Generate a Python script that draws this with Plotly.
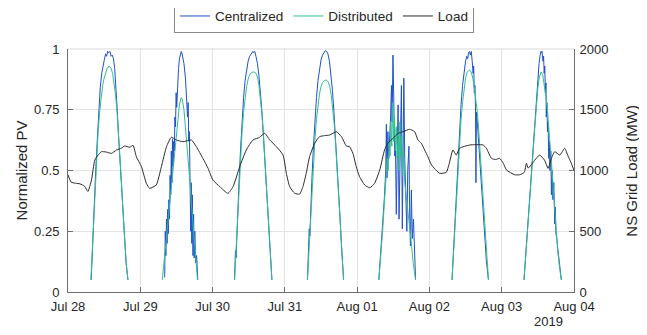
import pandas as pd
import plotly.graph_objects as go

# ---------------- data ----------------
start_date = "2019-07-28"
day_labels = ["Jul 28", "Jul 29", "Jul 30", "Jul 31", "Aug 01", "Aug 02", "Aug 03", "Aug 04"]
pv_ticks = [0, 0.25, 0.5, 0.75, 1]
pv_tick_labels = ["0", "0.25", "0.5", "0.75", "1"]
load_ticks = [0, 500, 1000, 1500, 2000]

# Distributed PV (normalized), local hours of each day
dist_hours = [
    [7.6, 8.0, 8.5, 9.0, 9.5, 10.0, 10.5, 11.0, 11.5, 12.0, 12.5, 13.0, 13.7, 14.3, 14.8, 15.3, 15.8, 16.3, 16.8, 17.3, 17.8, 18.3, 18.8, 19.3, 19.9],
    [7.3, 8.0, 8.5, 9.0, 9.5, 10.0, 10.5, 11.0, 11.5, 12.0, 12.5, 13.0, 13.6, 14.0, 14.5, 15.0, 15.5, 16.0, 16.5, 17.0, 17.5, 18.0, 18.5, 19.0],
    [7.3, 7.8, 8.3, 8.8, 9.3, 9.8, 10.3, 10.8, 11.3, 11.8, 12.3, 12.9, 13.7, 14.4, 14.9, 15.4, 15.9, 16.4, 16.9, 17.4, 17.9, 18.4, 18.9, 19.3, 19.7],
    [7.5, 8.0, 8.5, 9.0, 9.5, 10.0, 10.5, 11.0, 11.5, 12.0, 12.5, 13.1, 13.8, 14.4, 14.9, 15.4, 15.9, 16.4, 16.9, 17.4, 17.9, 18.4, 18.9, 19.2, 19.5],
    [7.2, 7.8, 8.4, 9.0, 9.6, 10.0, 10.3, 10.6, 10.9, 11.2, 11.5, 11.8, 12.1, 12.4, 12.7, 13.0, 13.3, 13.6, 13.9, 14.2, 14.5, 14.8, 15.1, 15.4, 15.8, 16.3, 16.8, 17.4, 18.0, 18.6, 19.4],
    [7.5, 8.0, 8.5, 9.0, 9.5, 10.0, 10.5, 11.0, 11.5, 12.0, 12.5, 13.3, 13.9, 14.4, 14.9, 15.4, 15.9, 16.4, 16.9, 17.4, 17.9, 18.4, 18.9, 19.6],
    [7.4, 8.0, 8.5, 9.0, 9.5, 10.0, 10.5, 11.0, 11.5, 12.0, 12.5, 13.1, 13.6, 14.1, 14.6, 15.1, 15.6, 16.1, 16.6, 17.1, 17.6, 18.1, 18.6, 19.2, 19.8],
]
dist_values = [
    [0.05, 0.16, 0.30, 0.44, 0.56, 0.66, 0.74, 0.80, 0.85, 0.88, 0.905, 0.92, 0.93, 0.92, 0.90, 0.86, 0.81, 0.74, 0.65, 0.55, 0.44, 0.32, 0.21, 0.12, 0.05],
    [0.05, 0.14, 0.20, 0.26, 0.34, 0.41, 0.48, 0.54, 0.60, 0.66, 0.72, 0.77, 0.80, 0.79, 0.75, 0.68, 0.61, 0.53, 0.45, 0.36, 0.28, 0.20, 0.12, 0.05],
    [0.05, 0.17, 0.31, 0.44, 0.56, 0.66, 0.74, 0.80, 0.845, 0.875, 0.893, 0.903, 0.906, 0.90, 0.885, 0.85, 0.80, 0.73, 0.64, 0.54, 0.43, 0.32, 0.20, 0.12, 0.05],
    [0.05, 0.17, 0.30, 0.42, 0.53, 0.63, 0.71, 0.77, 0.815, 0.845, 0.862, 0.87, 0.872, 0.865, 0.845, 0.81, 0.76, 0.69, 0.60, 0.50, 0.39, 0.28, 0.17, 0.11, 0.05],
    [0.05, 0.14, 0.24, 0.36, 0.48, 0.55, 0.50, 0.62, 0.56, 0.70, 0.60, 0.78, 0.62, 0.72, 0.58, 0.68, 0.55, 0.66, 0.50, 0.70, 0.56, 0.64, 0.48, 0.58, 0.45, 0.40, 0.34, 0.27, 0.20, 0.12, 0.05],
    [0.05, 0.16, 0.28, 0.40, 0.51, 0.62, 0.71, 0.78, 0.84, 0.88, 0.905, 0.914, 0.905, 0.88, 0.84, 0.80, 0.74, 0.66, 0.56, 0.45, 0.34, 0.24, 0.14, 0.05],
    [0.05, 0.15, 0.22, 0.31, 0.40, 0.50, 0.59, 0.68, 0.77, 0.84, 0.885, 0.906, 0.895, 0.86, 0.81, 0.76, 0.69, 0.60, 0.52, 0.43, 0.34, 0.25, 0.17, 0.10, 0.05],
]

# Centralized PV (normalized), local hours of each day
cent_hours = [
    [7.7, 8.2, 8.7, 9.2, 9.7, 10.2, 10.7, 11.2, 11.7, 12.2, 12.5, 12.8, 13.2, 13.5, 13.9, 14.3, 14.7, 15.1, 15.5, 15.9, 16.3, 16.8, 17.3, 17.8, 18.3, 18.8, 19.3, 19.9],
    [8.1, 8.3, 8.5, 8.7, 8.9, 9.1, 9.3, 9.5, 9.7, 9.9, 10.1, 10.3, 10.5, 10.7, 10.9, 11.1, 11.3, 11.5, 11.7, 11.9, 12.1, 12.4, 12.7, 13.0, 13.3, 13.6, 13.8, 14.0, 14.5, 15.0, 15.4, 15.7, 15.9, 16.1, 16.3, 16.5, 16.6, 16.75, 16.9, 17.1, 17.3, 17.5, 17.7, 17.9, 18.1, 18.4, 18.7, 19.1],
    [7.3, 7.6, 7.8, 8.0, 8.3, 8.8, 9.3, 9.8, 10.3, 10.8, 11.3, 11.8, 12.3, 12.9, 13.4, 13.7, 14.0, 14.4, 14.9, 15.4, 15.9, 16.4, 16.9, 17.4, 17.9, 18.4, 18.9, 19.3, 19.7],
    [7.5, 7.9, 8.1, 8.3, 8.6, 9.0, 9.5, 10.0, 10.5, 11.0, 11.5, 12.0, 12.5, 13.0, 13.4, 13.9, 14.3, 14.8, 15.3, 15.8, 16.3, 16.8, 17.3, 17.8, 18.3, 18.8, 19.2, 19.5],
    [7.2, 7.8, 8.4, 9.0, 9.5, 9.7, 9.9, 10.2, 10.5, 10.8, 11.1, 11.4, 11.6, 11.9, 12.1, 12.5, 12.7, 13.0, 13.2, 13.6, 13.9, 14.2, 14.7, 15.0, 15.2, 15.5, 15.8, 16.1, 16.5, 16.8, 17.2, 17.4, 17.7, 18.0, 18.3, 18.7, 19.1, 19.4],
    [7.5, 8.0, 8.5, 9.0, 9.5, 10.0, 10.5, 11.0, 11.5, 12.0, 12.4, 12.7, 13.0, 13.3, 13.6, 13.9, 14.2, 14.5, 14.7, 14.9, 15.1, 15.3, 15.45, 15.6, 15.9, 16.2, 16.5, 16.9, 17.4, 17.9, 18.4, 18.9, 19.6],
    [7.4, 8.0, 8.5, 9.0, 9.5, 10.0, 10.5, 11.0, 11.5, 12.0, 12.4, 12.7, 13.0, 13.2, 13.4, 13.7, 13.9, 14.1, 14.3, 14.5, 14.7, 14.8, 15.0, 15.2, 15.4, 15.6, 15.8, 16.0, 16.3, 16.5, 16.8, 17.0, 17.3, 17.6, 17.8, 18.0, 18.3, 18.6, 19.2, 19.8],
]
cent_values = [
    [0.05, 0.22, 0.36, 0.50, 0.62, 0.74, 0.84, 0.90, 0.94, 0.965, 0.98, 0.97, 0.99, 0.985, 0.99, 0.97, 0.975, 0.96, 0.92, 0.85, 0.76, 0.64, 0.53, 0.43, 0.32, 0.21, 0.12, 0.05],
    [0.06, 0.25, 0.15, 0.30, 0.20, 0.34, 0.24, 0.38, 0.30, 0.48, 0.40, 0.58, 0.45, 0.63, 0.52, 0.62, 0.58, 0.72, 0.68, 0.82, 0.76, 0.88, 0.92, 0.96, 0.98, 0.99, 0.985, 0.97, 0.94, 0.88, 0.80, 0.72, 0.78, 0.62, 0.66, 0.40, 0.58, 0.25, 0.45, 0.20, 0.40, 0.15, 0.32, 0.14, 0.25, 0.12, 0.15, 0.05],
    [0.05, 0.17, 0.14, 0.22, 0.32, 0.46, 0.59, 0.71, 0.80, 0.87, 0.92, 0.95, 0.97, 0.98, 0.99, 0.985, 0.99, 0.97, 0.94, 0.89, 0.82, 0.74, 0.64, 0.54, 0.43, 0.32, 0.20, 0.12, 0.05],
    [0.05, 0.20, 0.26, 0.23, 0.36, 0.47, 0.60, 0.71, 0.80, 0.87, 0.92, 0.955, 0.975, 0.985, 0.993, 0.99, 0.98, 0.95, 0.90, 0.83, 0.74, 0.64, 0.53, 0.42, 0.31, 0.19, 0.11, 0.05],
    [0.05, 0.15, 0.26, 0.38, 0.50, 0.69, 0.47, 0.66, 0.55, 0.62, 0.72, 0.85, 0.70, 0.975, 0.80, 0.56, 0.62, 0.32, 0.48, 0.77, 0.30, 0.55, 0.85, 0.26, 0.50, 0.88, 0.55, 0.40, 0.25, 0.50, 0.60, 0.35, 0.19, 0.42, 0.22, 0.30, 0.14, 0.05],
    [0.05, 0.18, 0.31, 0.44, 0.56, 0.67, 0.77, 0.85, 0.91, 0.95, 0.97, 0.96, 0.985, 0.99, 0.975, 0.99, 0.95, 0.90, 0.93, 0.82, 0.85, 0.76, 0.45, 0.74, 0.70, 0.64, 0.60, 0.53, 0.43, 0.33, 0.23, 0.13, 0.05],
    [0.05, 0.16, 0.24, 0.34, 0.44, 0.54, 0.63, 0.72, 0.81, 0.89, 0.94, 0.97, 0.99, 0.985, 0.99, 0.95, 0.97, 0.90, 0.93, 0.82, 0.86, 0.72, 0.78, 0.66, 0.70, 0.55, 0.62, 0.50, 0.58, 0.40, 0.50, 0.38, 0.45, 0.28, 0.35, 0.24, 0.22, 0.18, 0.10, 0.05],
]

# NS grid load (MW), hours since Jul 28 00:00
load_hours = [0, 1, 2.5, 4, 5.5, 6.6, 7.8, 8.9, 10, 11.1, 12.7, 14.4, 16.1, 17.7, 18.8, 20.5, 21.6, 22.7, 24.4, 26.0, 27.1, 29.3,
              31.0, 32.7, 34.3, 36.0, 38.2, 41.0, 42.6, 44.8, 46.5, 48.1, 50.4, 53.1, 54.8, 57.0, 59.2, 61.4, 63.6, 65.3, 67.0,
              69.2, 71.4, 72.5, 73.6, 75.3, 76.9, 78.0, 79.1, 80.2, 81.9, 83.5, 85.2, 86.9, 89.1, 90.8, 92.4, 93.5, 94.6, 95.7,
              96.8, 98.5, 100.2, 101.8, 103.5, 105.1, 106.2, 107.9, 109.6, 111.2, 113.4, 115.1, 116.2, 117.3, 118.4, 119.5,
              120.7, 123.4, 125.6, 126.5, 127.8, 128.9, 130.0, 133.4, 137.8, 138.9, 140.6, 142.0, 143.3, 144.5, 145.6, 148.3,
              150.0, 151.5, 152.2, 152.8, 155.0, 156.6, 158.2, 159.4, 160.5, 161.6, 163.3, 164.9, 166.0, 167.1, 168.0]
load_mw = [965, 905, 895, 890, 870, 828, 922, 1086, 1127, 1155, 1152, 1141, 1169, 1183, 1202, 1191, 1207, 1113, 1031, 895, 853, 881,
           1031, 1196, 1273, 1251, 1237, 1251, 1196, 1100, 1018, 922, 867, 812, 867, 1031, 1169, 1251, 1273, 1306, 1251,
           1196, 1127, 977, 867, 812, 806, 867, 977, 1113, 1224, 1278, 1287, 1292, 1319, 1278, 1202, 1196, 1141, 1031,
           949, 881, 858, 895, 1004, 1169, 1224, 1265, 1306, 1319, 1339, 1319, 1251, 1224, 1169, 1113,
           1045, 977, 985, 1050, 1169, 1127, 1183, 1210, 1210, 1183, 1100, 1090, 1100, 1060, 1004, 965,
           965, 985, 1059, 1020, 1086, 1127, 1086, 1018, 1100, 1155, 1127, 1183, 1120, 1060, 1000]

# ---------------- build ----------------
base = pd.Timestamp(start_date)


def to_time(h):
    return base + pd.to_timedelta(h, unit="h")


def day_series(hours_list, values_list):
    xs, ys = [], []
    for d, (hh, vv) in enumerate(zip(hours_list, values_list)):
        xs += [to_time(d * 24 + h) for h in hh] + [None]
        ys += list(vv) + [None]
    return xs, ys


cx, cy = day_series(cent_hours, cent_values)
dx, dy = day_series(dist_hours, dist_values)
lx = [to_time(h) for h in load_hours]

FONT = "Liberation Sans, Arial, sans-serif"
TXT = "#262626"
AX = "#6e6e6e"
GRID = "#e3e3e3"

fig = go.Figure()
fig.add_trace(go.Scatter(x=cx, y=cy, mode="lines", name="Centralized",
                         line=dict(color="#2150cc", width=1), yaxis="y"))
fig.add_trace(go.Scatter(x=dx, y=dy, mode="lines", name="Distributed",
                         line=dict(color="#2fc08e", width=1), yaxis="y"))
fig.add_trace(go.Scatter(x=lx, y=load_mw, mode="lines", name="Load",
                         line=dict(color="#2b2b2b", width=1, shape="spline", smoothing=0.5), yaxis="y2"))

tickdates = [base + pd.Timedelta(days=i) for i in range(len(day_labels))]

# the page body adds an 8px offset, so the figure is 8px smaller than the window
fig.update_layout(
    width=639, height=327,
    margin=dict(l=60, r=73, t=41, b=43, autoexpand=False),
    paper_bgcolor="white", plot_bgcolor="white",
    font=dict(family=FONT, size=13, color=TXT),
    showlegend=True,
    legend=dict(orientation="h", x=0.506, y=1.135, xanchor="center", yanchor="middle",
                bordercolor="#8a8a8a", borderwidth=1, bgcolor="white",
                font=dict(size=13.5, color=TXT), itemwidth=30, tracegroupgap=0),
    xaxis=dict(type="date", range=[tickdates[0], tickdates[-1]],
               tickmode="array", tickvals=tickdates, ticktext=day_labels,
               showgrid=True, gridcolor=GRID, gridwidth=1,
               ticks="inside", ticklen=5, tickcolor=AX,
               showline=True, linecolor=AX, linewidth=1, zeroline=False,
               tickfont=dict(size=13, color=TXT), automargin=False,
               ticklabelstandoff=2),
    yaxis=dict(range=[0, 1], tickmode="array", tickvals=pv_ticks, ticktext=pv_tick_labels,
               showgrid=True, gridcolor=GRID, gridwidth=1,
               ticks="inside", ticklen=5, tickcolor=AX,
               showline=True, linecolor=AX, linewidth=1, zeroline=False,
               tickfont=dict(size=13, color=TXT), automargin=False,
               ticklabelstandoff=5),
    yaxis2=dict(range=[0, 2000], tickmode="array", tickvals=load_ticks,
                overlaying="y", side="right", showgrid=False,
                ticks="inside", ticklen=5, tickcolor=AX,
                showline=True, linecolor=AX, linewidth=1, zeroline=False,
                tickfont=dict(size=13, color=TXT), automargin=False,
                ticklabelstandoff=2),
)

# top border of the box
fig.add_shape(type="line", xref="paper", yref="paper", x0=0, x1=1, y0=1, y1=1,
              line=dict(color="#d9d9d9", width=1))

fig.add_annotation(text="Normalized PV", xref="paper", yref="paper", x=-0.091, y=0.5,
                   textangle=-90, showarrow=False, font=dict(size=15, color=TXT),
                   xanchor="center", yanchor="middle")
fig.add_annotation(text="NS Grid Load (MW)", xref="paper", yref="paper", x=1.113, y=0.5,
                   textangle=-90, showarrow=False, font=dict(size=15, color=TXT),
                   xanchor="center", yanchor="middle")
fig.add_annotation(text="2019", xref="paper", yref="paper", x=0.949, y=-0.123,
                   showarrow=False, font=dict(size=13, color=TXT),
                   xanchor="center", yanchor="middle")

fig.write_html("out.html")
